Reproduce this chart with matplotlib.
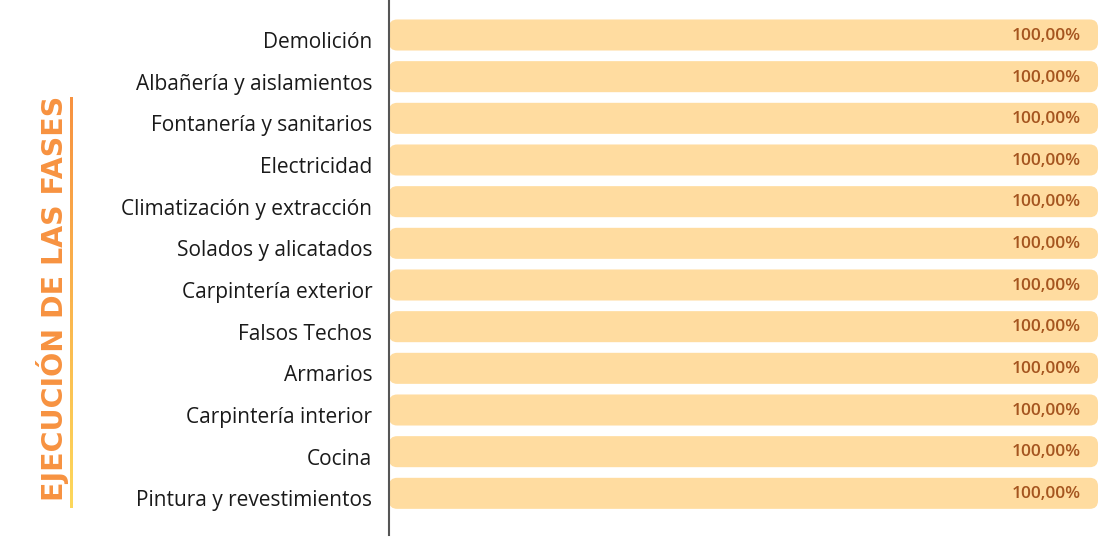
import matplotlib
matplotlib.use("Agg")
import matplotlib.pyplot as plt
import matplotlib.transforms as mtransforms
import numpy as np
from matplotlib.patches import FancyBboxPatch
from matplotlib.colors import LinearSegmentedColormap

fases = [
    "Demolición",
    "Albañería y aislamientos",
    "Fontanería y sanitarios",
    "Electricidad",
    "Climatización y extracción",
    "Solados y alicatados",
    "Carpintería exterior",
    "Falsos Techos",
    "Armarios",
    "Carpintería interior",
    "Cocina",
    "Pintura y revestimientos",
]
avance = [100, 100, 100, 100, 100, 100, 100, 100, 100, 100, 100, 100]
etiquetas = ["100,00%"] * len(fases)

bar_color = "#FFDCA0"
label_color = "#A5551F"

fig = plt.figure(figsize=(11, 5.5), dpi=100)
ax = fig.add_axes([389 / 1100, 15 / 550, 709 / 1100, 535 / 550])

n = len(fases)
y_top, y_bot = -0.84, n - 0.0
ax.set_xlim(0, 100)
ax.set_ylim(y_bot, y_top)

# rounded bars
h = 0.745
px_x = 709 / 100.0
px_y = 535 / (y_bot - y_top)
for i, v in enumerate(avance):
    box = FancyBboxPatch((0, i - h / 2), v, h,
                         boxstyle="round,pad=0,rounding_size=1.15",
                         mutation_aspect=px_x / px_y,
                         facecolor=bar_color, edgecolor="none")
    ax.add_patch(box)
    ax.text(v - 2.4, i + 0.02, etiquetas[i], ha="right", va="center",
            fontsize=12.5, color=label_color, family="Open Sans", fontweight="semibold")

ax.set_yticks(range(n))
ax.set_yticklabels(fases, fontsize=15, family="Open Sans", color="#1a1a1a")
ax.tick_params(axis="y", length=0, pad=12)
# category labels sit a little below the bar centres
shift = mtransforms.ScaledTranslation(0, -5 / 100, fig.dpi_scale_trans)
for lab in ax.get_yticklabels():
    lab.set_transform(lab.get_transform() + shift)
ax.set_xticks([])
for s in ["top", "right", "bottom"]:
    ax.spines[s].set_visible(False)
ax.spines["left"].set_color("#555555")
ax.spines["left"].set_linewidth(1.5)

# side title
fig.text(53 / 1100, 1 - 298 / 550, "EJECUCIÓN DE LAS FASES", rotation=90,
         ha="center", va="center", fontsize=20.5, fontweight="bold",
         family="DejaVu Sans", color="#F79240")

# gradient line next to title
lax = fig.add_axes([69.5 / 1100, 1 - 508 / 550, 3 / 1100, 411 / 550])
cmap = LinearSegmentedColormap.from_list("fase", ["#F79240", "#FDD85C"])
lax.imshow(np.linspace(0, 1, 200).reshape(-1, 1), aspect="auto", cmap=cmap)
lax.axis("off")

fig.savefig("out.png", dpi=100, facecolor="white")
